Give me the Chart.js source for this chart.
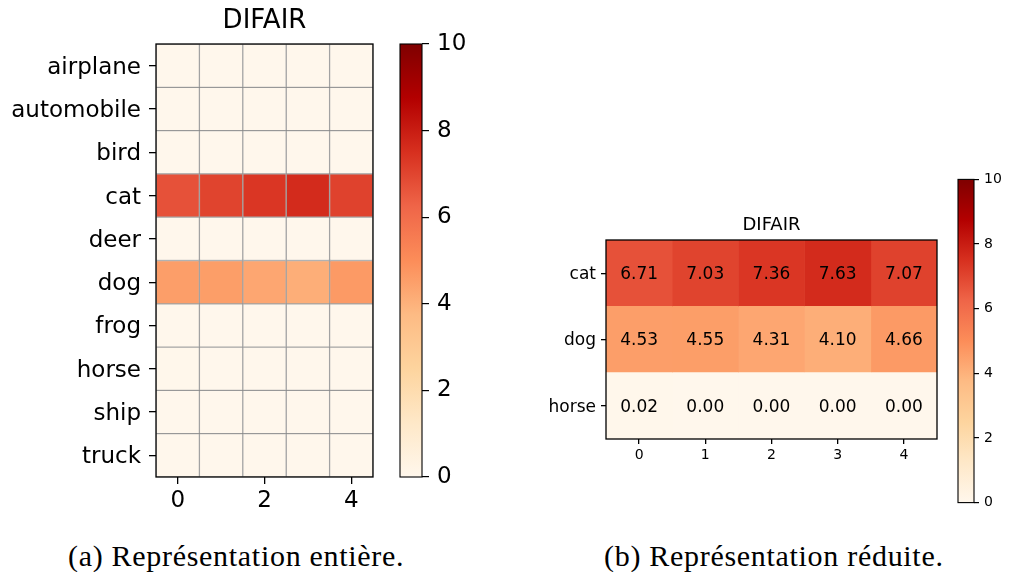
<!DOCTYPE html>
<html>
<head>
<meta charset="utf-8">
<script src="https://cdn.jsdelivr.net/npm/chart.js@4.4.0/dist/chart.umd.min.js"></script>
<style>
  html, body { margin: 0; padding: 0; background: #fff; }
  body { width: 1010px; height: 572px; position: relative; overflow: hidden; }
  canvas { position: absolute; }
  .cap { position: absolute; font-family: "Liberation Serif", "DejaVu Serif", serif; font-size: 30px; letter-spacing: 0.7px; color: #000; white-space: nowrap; line-height: 1; }
</style>
</head>
<body>
<canvas id="fullMap" width="390" height="530" style="left:0px;top:0px;width:390px;height:530px"></canvas>
<canvas id="fullBar" width="80" height="530" style="left:390px;top:0px;width:80px;height:530px"></canvas>
<canvas id="redMap" width="430" height="280" style="left:520px;top:200px;width:430px;height:280px"></canvas>
<canvas id="redBar" width="62" height="350" style="left:948px;top:166px;width:62px;height:350px"></canvas>
<div class="cap" id="capA" style="left:68px;top:541px">(a) Représentation entière.</div>
<div class="cap" id="capB" style="left:604px;top:541px">(b) Représentation réduite.</div>
<script>
// ---------------- data ----------------
const chartTitle = 'DIFAIR';
const columns = [0, 1, 2, 3, 4];
const fullClasses = ['airplane', 'automobile', 'bird', 'cat', 'deer', 'dog', 'frog', 'horse', 'ship', 'truck'];
const reducedClasses = ['cat', 'dog', 'horse'];
const catValues = [6.71, 7.03, 7.36, 7.63, 7.07];
const dogValues = [4.53, 4.55, 4.31, 4.10, 4.66];
const horseValues = [0.02, 0.00, 0.00, 0.00, 0.00];
const airplaneValues = [0, 0, 0, 0, 0];
const automobileValues = [0, 0, 0, 0, 0];
const birdValues = [0, 0, 0, 0, 0];
const deerValues = [0, 0, 0, 0, 0];
const frogValues = [0, 0, 0, 0, 0];
const shipValues = [0, 0, 0, 0, 0];
const truckValues = [0, 0, 0, 0, 0];
const fullValues = [airplaneValues, automobileValues, birdValues, catValues, deerValues, dogValues, frogValues, horseValues, shipValues, truckValues];
const reducedValues = [catValues, dogValues, horseValues];
const fullXTicks = [0, 2, 4];
const reducedXTicks = [0, 1, 2, 3, 4];
const colorbarTicks = [0, 2, 4, 6, 8, 10];
const vmin = 0, vmax = 10;

// ---------------- colormap (OrRd) ----------------
const orrd = ['#fff7ec', '#fee8c8', '#fdd49e', '#fdbb84', '#fc8d59', '#ef6548', '#d7301f', '#b30000', '#7f0000'];
function hex2rgb(h) { return [parseInt(h.slice(1, 3), 16), parseInt(h.slice(3, 5), 16), parseInt(h.slice(5, 7), 16)]; }
const orrdRgb = orrd.map(hex2rgb);
function cmap(v) {
  let t = (v - vmin) / (vmax - vmin);
  t = Math.max(0, Math.min(1, t));
  const p = t * (orrdRgb.length - 1);
  const i = Math.min(Math.floor(p), orrdRgb.length - 2);
  const f = p - i;
  const a = orrdRgb[i], b = orrdRgb[i + 1];
  const c = a.map((x, k) => Math.round(x + (b[k] - x) * f));
  return `rgb(${c[0]},${c[1]},${c[2]})`;
}

Chart.defaults.font.family = '"DejaVu Sans", sans-serif';
Chart.defaults.color = '#000';
Chart.defaults.animation = false;

const framePlugin = {
  id: 'frame',
  afterDraw(chart, args, opts) {
    const a = chart.chartArea, c = chart.ctx;
    c.save();
    c.strokeStyle = '#000';
    c.lineWidth = opts.lineWidth || 1.3;
    c.strokeRect(a.left, a.top, a.right - a.left, a.bottom - a.top);
    c.restore();
  }
};

const annotatePlugin = {
  id: 'annot',
  afterDatasetsDraw(chart, args, opts) {
    if (!opts.enabled) return;
    const c = chart.ctx;
    c.save();
    c.font = `${opts.size}px "DejaVu Sans"`;
    c.fillStyle = '#000';
    c.textAlign = 'center';
    c.textBaseline = 'middle';
    chart.data.datasets.forEach((ds, j) => {
      const meta = chart.getDatasetMeta(j);
      meta.data.forEach((el, i) => {
        const p = el.getCenterPoint();
        c.fillText(ds.values[i].toFixed(2), p.x, p.y + (opts.dy || 0));
      });
    });
    c.restore();
  }
};

function makeHeatmap(id, rows, values, cfg) {
  const datasets = columns.map((col, j) => ({
    data: rows.map(() => [col - 0.5, col + 0.5]),
    values: rows.map((r, i) => values[i][j]),
    backgroundColor: rows.map((r, i) => cmap(values[i][j])),
    borderColor: cfg.edge || 'rgba(0,0,0,0)',
    borderWidth: cfg.edge ? 1 : 0,
    borderSkipped: false,
    grouped: false,
    barPercentage: 1,
    categoryPercentage: 1
  }));
  return new Chart(document.getElementById(id), {
    type: 'bar',
    data: { labels: rows, datasets },
    options: {
      responsive: false,
      indexAxis: 'y',
      layout: { padding: cfg.padding },
      plugins: {
        legend: { display: false },
        tooltip: { enabled: false },
        title: {
          display: true, text: chartTitle, fullSize: false, color: '#000',
          font: { size: cfg.titleSize, weight: 'normal', lineHeight: 1.2 },
          padding: cfg.titlePad
        },
        frame: { lineWidth: 1.3 },
        annot: { enabled: !!cfg.annotate, size: cfg.annotSize, dy: 1.5 }
      },
      scales: {
        y: {
          type: 'category',
          offset: true,
          afterFit: s => { s.width = cfg.yWidth; },
          border: { display: false },
          grid: { offset: false, drawOnChartArea: false, drawTicks: true, tickLength: cfg.tickLen, tickColor: '#000', lineWidth: 1.3, color: '#000' },
          ticks: { font: { size: cfg.yFont }, padding: cfg.yPad, color: '#000', labelOffset: cfg.yLabelOffset }
        },
        x: {
          type: 'linear',
          min: columns[0] - 0.5,
          max: columns[columns.length - 1] + 0.5,
          afterBuildTicks: s => { s.ticks = cfg.xTicks.map(v => ({ value: v })); },
          afterFit: s => { s.height = cfg.xHeight; },
          border: { display: false },
          grid: { drawOnChartArea: false, drawTicks: true, tickLength: cfg.tickLen, tickColor: '#000', lineWidth: 1.3, color: '#000' },
          ticks: { font: { size: cfg.xFont }, padding: cfg.xPad, color: '#000', callback: v => String(v) }
        }
      }
    },
    plugins: [framePlugin, annotatePlugin]
  });
}

function makeColorbar(id, cfg) {
  return new Chart(document.getElementById(id), {
    type: 'bar',
    data: {
      labels: ['cb'],
      datasets: [{
        data: [[vmin, vmax]],
        backgroundColor: ctx => {
          const ch = ctx.chart, ys = ch.scales.y;
          if (!ch.chartArea || !ys) return orrd[0];
          const g = ch.ctx.createLinearGradient(0, ys.getPixelForValue(vmin), 0, ys.getPixelForValue(vmax));
          orrd.forEach((c, i) => g.addColorStop(i / (orrd.length - 1), c));
          return g;
        },
        borderWidth: 0,
        barPercentage: 1,
        categoryPercentage: 1
      }]
    },
    options: {
      responsive: false,
      layout: { padding: cfg.padding },
      plugins: { legend: { display: false }, tooltip: { enabled: false }, title: { display: false }, frame: { lineWidth: 1.1 } },
      scales: {
        x: { display: false },
        y: {
          position: 'right',
          min: vmin, max: vmax,
          afterBuildTicks: s => { s.ticks = colorbarTicks.map(v => ({ value: v })); },
          afterFit: s => { s.width = cfg.yWidth; },
          border: { display: false },
          grid: { drawOnChartArea: false, drawTicks: true, tickLength: cfg.tickLen, tickColor: '#000', lineWidth: 1.2, color: '#000' },
          ticks: { font: { size: cfg.font }, padding: cfg.pad, color: '#000', callback: v => String(v) }
        }
      }
    },
    plugins: [framePlugin]
  });
}

// left: full representation
makeHeatmap('fullMap', fullClasses, fullValues, {
  padding: { left: 0, right: 17, top: 0, bottom: 0 },
  titleSize: 26, titlePad: { top: 6, bottom: 6.8 },
  yWidth: 156, xHeight: 53, tickLen: 7,
  yFont: 23, yPad: 8, yLabelOffset: 2, xFont: 23, xPad: 3,
  xTicks: fullXTicks,
  edge: 'rgba(95,95,95,0.5)'
});
makeColorbar('fullBar', { padding: { left: 10, right: 0, top: 44, bottom: 53 }, yWidth: 48, tickLen: 7, font: 23, pad: 8 });

// right: reduced representation
makeHeatmap('redMap', reducedClasses, reducedValues, {
  padding: { left: 0, right: 13, top: 0, bottom: 0 },
  titleSize: 18, titlePad: { top: 14.2, bottom: 4.2 },
  yWidth: 86, xHeight: 41, tickLen: 5,
  yFont: 17, yPad: 5, yLabelOffset: 1.5, xFont: 14, xPad: 3,
  xTicks: reducedXTicks,
  annotate: true, annotSize: 17
});
makeColorbar('redBar', { padding: { left: 10, right: 0, top: 10, bottom: 12 }, yWidth: 36, tickLen: 5, font: 14, pad: 5 });
</script>
</body>
</html>
